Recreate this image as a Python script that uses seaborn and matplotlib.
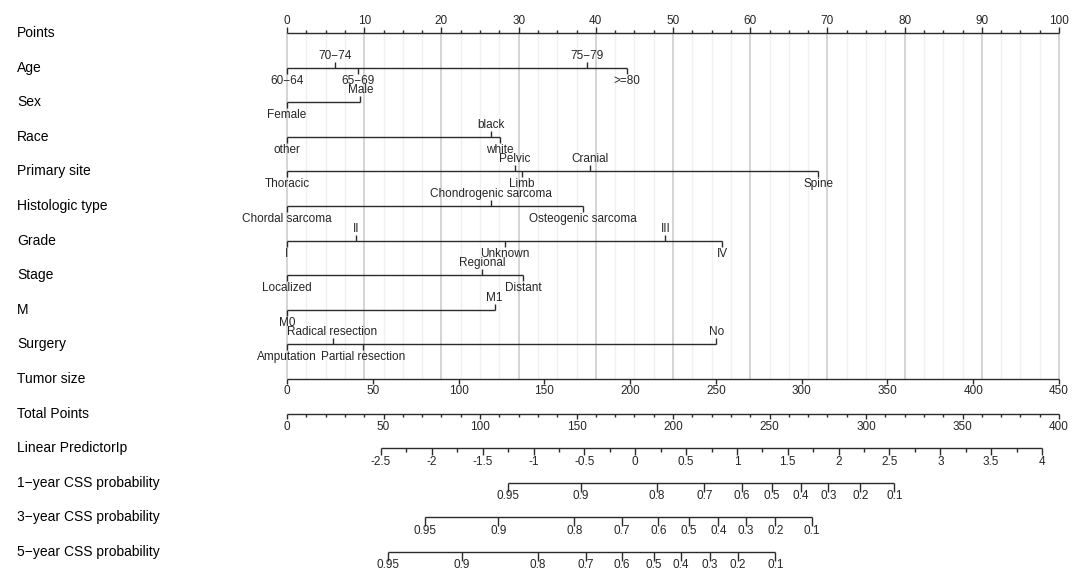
import numpy as np
import matplotlib
matplotlib.use("Agg")
import matplotlib.pyplot as plt
import seaborn as sns

# ---- data (points scale 0-100) ----
age_levels = ["60\u221264", "70\u221274", "65\u221269", "75\u221279", ">=80"]
age_points = [0, 6.2, 9.2, 38.8, 44.0]

sex_levels = ["Female", "Male"]
sex_points = [0, 9.5]

race_levels = ["other", "black", "white"]
race_points = [0, 26.4, 27.6]

site_levels = ["Thoracic", "Pelvic", "Limb", "Cranial", "Spine"]
site_points = [0, 29.5, 30.4, 39.3, 68.8]

hist_levels = ["Chordal sarcoma", "Chondrogenic sarcoma", "Osteogenic sarcoma"]
hist_points = [0, 26.4, 38.3]

grade_levels = ["I", "II", "Unknown", "III", "IV"]
grade_points = [0, 8.9, 28.2, 49.0, 56.4]

stage_levels = ["Localized", "Regional", "Distant"]
stage_points = [0, 25.3, 30.6]

m_levels = ["M0", "M1"]
m_points = [0, 26.9]

surgery_levels = ["Amputation", "Radical resection", "Partial resection", "No"]
surgery_points = [0, 5.9, 9.9, 55.6]

tumor_max = 450          # tumor size value at 100 points
total_max = 400          # total points at right end of the points axis

lp_values = [-2.5, 4]    # linear predictor range
lp_total = [48.7, 391.2] # total points where those values sit

prob_labels = [0.95, 0.9, 0.8, 0.7, 0.6, 0.5, 0.4, 0.3, 0.2, 0.1]
css1_total = [114.5, 152.2, 191.8, 216.3, 235.6, 251.3, 266.2, 280.5, 297.0, 314.7]
css3_total = [71.7, 109.5, 148.9, 173.6, 192.4, 208.3, 223.5, 237.8, 253.0, 272.0]
css5_total = [52.4, 90.5, 129.8, 154.9, 173.6, 189.9, 204.2, 219.1, 233.7, 253.0]

row_names = ["Points", "Age", "Sex", "Race", "Primary site", "Histologic type",
             "Grade", "Stage", "M", "Surgery", "Tumor size", "Total Points",
             "Linear PredictorIp", "1\u2212year CSS probability",
             "3\u2212year CSS probability", "5\u2212year CSS probability"]

categorical = [
    (age_levels, age_points), (sex_levels, sex_points), (race_levels, race_points),
    (site_levels, site_points), (hist_levels, hist_points), (grade_levels, grade_points),
    (stage_levels, stage_points), (m_levels, m_points), (surgery_levels, surgery_points),
]

# ---- style ----
sns.set_theme(style="white")
plt.rcParams["font.family"] = ["Liberation Sans", "DejaVu Sans"]
LC = "#2b2b2b"
LW = 1.0
FS_ROW = 10
FS_TICK = 8.5

W, H = 1084, 586
X0, PX = 287.0, 7.72      # pixel of 0 points, pixels per point
Y0, DY = 33.0, 34.6       # first row pixel y, row spacing

fig = plt.figure(figsize=(W / 100, H / 100), dpi=100)
ax = fig.add_axes([0, 0, 1, 1])
ax.set_xlim(-X0 / PX, (W - X0) / PX)
ax.set_ylim(H, 0)
ax.axis("off")


def row_y(i):
    return Y0 + DY * i


def total_to_pts(tp):
    return np.asarray(tp, dtype=float) * 100.0 / total_max


# row titles
for i, name in enumerate(row_names):
    ax.text(-X0 / PX + 17 / PX, row_y(i), name, ha="left", va="center",
            fontsize=FS_ROW, color="black")

# vertical reference grid
grid = np.arange(0, 100.01, 2.5)
for g in grid:
    major = abs(g % 10) < 1e-9
    ax.vlines(g, row_y(0), row_y(10), color="#d4d4d4" if major else "#f0f0f0",
              lw=1.4 if major else 1.0, zorder=0)

# points axis (ticks up)
y = row_y(0)
ax.hlines(y, 0, 100, color=LC, lw=LW)
for v in np.arange(0, 100.01, 2.5):
    major = abs(v % 10) < 1e-9
    ax.vlines(v, y, y - (6 if major else 3.5), color=LC, lw=LW)
    if major:
        ax.text(v, y - 12.5, f"{v:g}", ha="center", va="center", fontsize=FS_TICK)

# categorical rows, labels alternate below / above by point order
for r, (levels, pts) in enumerate(categorical, start=1):
    y = row_y(r)
    ax.hlines(y, min(pts), max(pts), color=LC, lw=LW)
    order = np.argsort(pts, kind="stable")
    for k, idx in enumerate(order):
        p = pts[idx]
        if k % 2 == 0:
            ax.vlines(p, y, y + 6, color=LC, lw=LW)
            ax.text(p, y + 13, levels[idx], ha="center", va="center", fontsize=FS_TICK)
        else:
            ax.vlines(p, y, y - 6, color=LC, lw=LW)
            ax.text(p, y - 12, levels[idx], ha="center", va="center", fontsize=FS_TICK)

# tumor size axis
y = row_y(10)
ax.hlines(y, 0, 100, color=LC, lw=LW)
for v in range(0, tumor_max + 1, 50):
    p = v * 100.0 / tumor_max
    ax.vlines(p, y, y + 4.5, color=LC, lw=LW)
    ax.text(p, y + 12, str(v), ha="center", va="center", fontsize=FS_TICK)

# total points axis
y = row_y(11)
ax.hlines(y, 0, 100, color=LC, lw=LW)
for v in range(0, total_max + 1, 10):
    p = total_to_pts(v)
    major = v % 50 == 0
    ax.vlines(p, y, y + (5 if major else 3.5), color=LC, lw=LW)
    if major:
        ax.text(p, y + 13, str(v), ha="center", va="center", fontsize=FS_TICK)

# linear predictor axis
y = row_y(12)
lp_ticks = np.arange(lp_values[0], lp_values[1] + 0.001, 0.25)
lp_pos = total_to_pts(np.interp(lp_ticks, lp_values, lp_total))
ax.hlines(y, lp_pos[0], lp_pos[-1], color=LC, lw=LW)
for v, p in zip(lp_ticks, lp_pos):
    major = abs((v * 2) - round(v * 2)) < 1e-9
    ax.vlines(p, y, y + (6.5 if major else 3.5), color=LC, lw=LW)
    if major:
        ax.text(p, y + 13.5, f"{v:g}", ha="center", va="center", fontsize=FS_TICK)

# survival probability axes
for r, tot in zip([13, 14, 15], [css1_total, css3_total, css5_total]):
    y = row_y(r)
    pos = total_to_pts(tot)
    ax.hlines(y, pos.min(), pos.max(), color=LC, lw=LW)
    for lab, p in zip(prob_labels, pos):
        ax.vlines(p, y, y + 9, color=LC, lw=LW)
        ax.text(p, y + 13.5, f"{lab:g}", ha="center", va="center", fontsize=FS_TICK)

fig.savefig("out.png", dpi=100)
